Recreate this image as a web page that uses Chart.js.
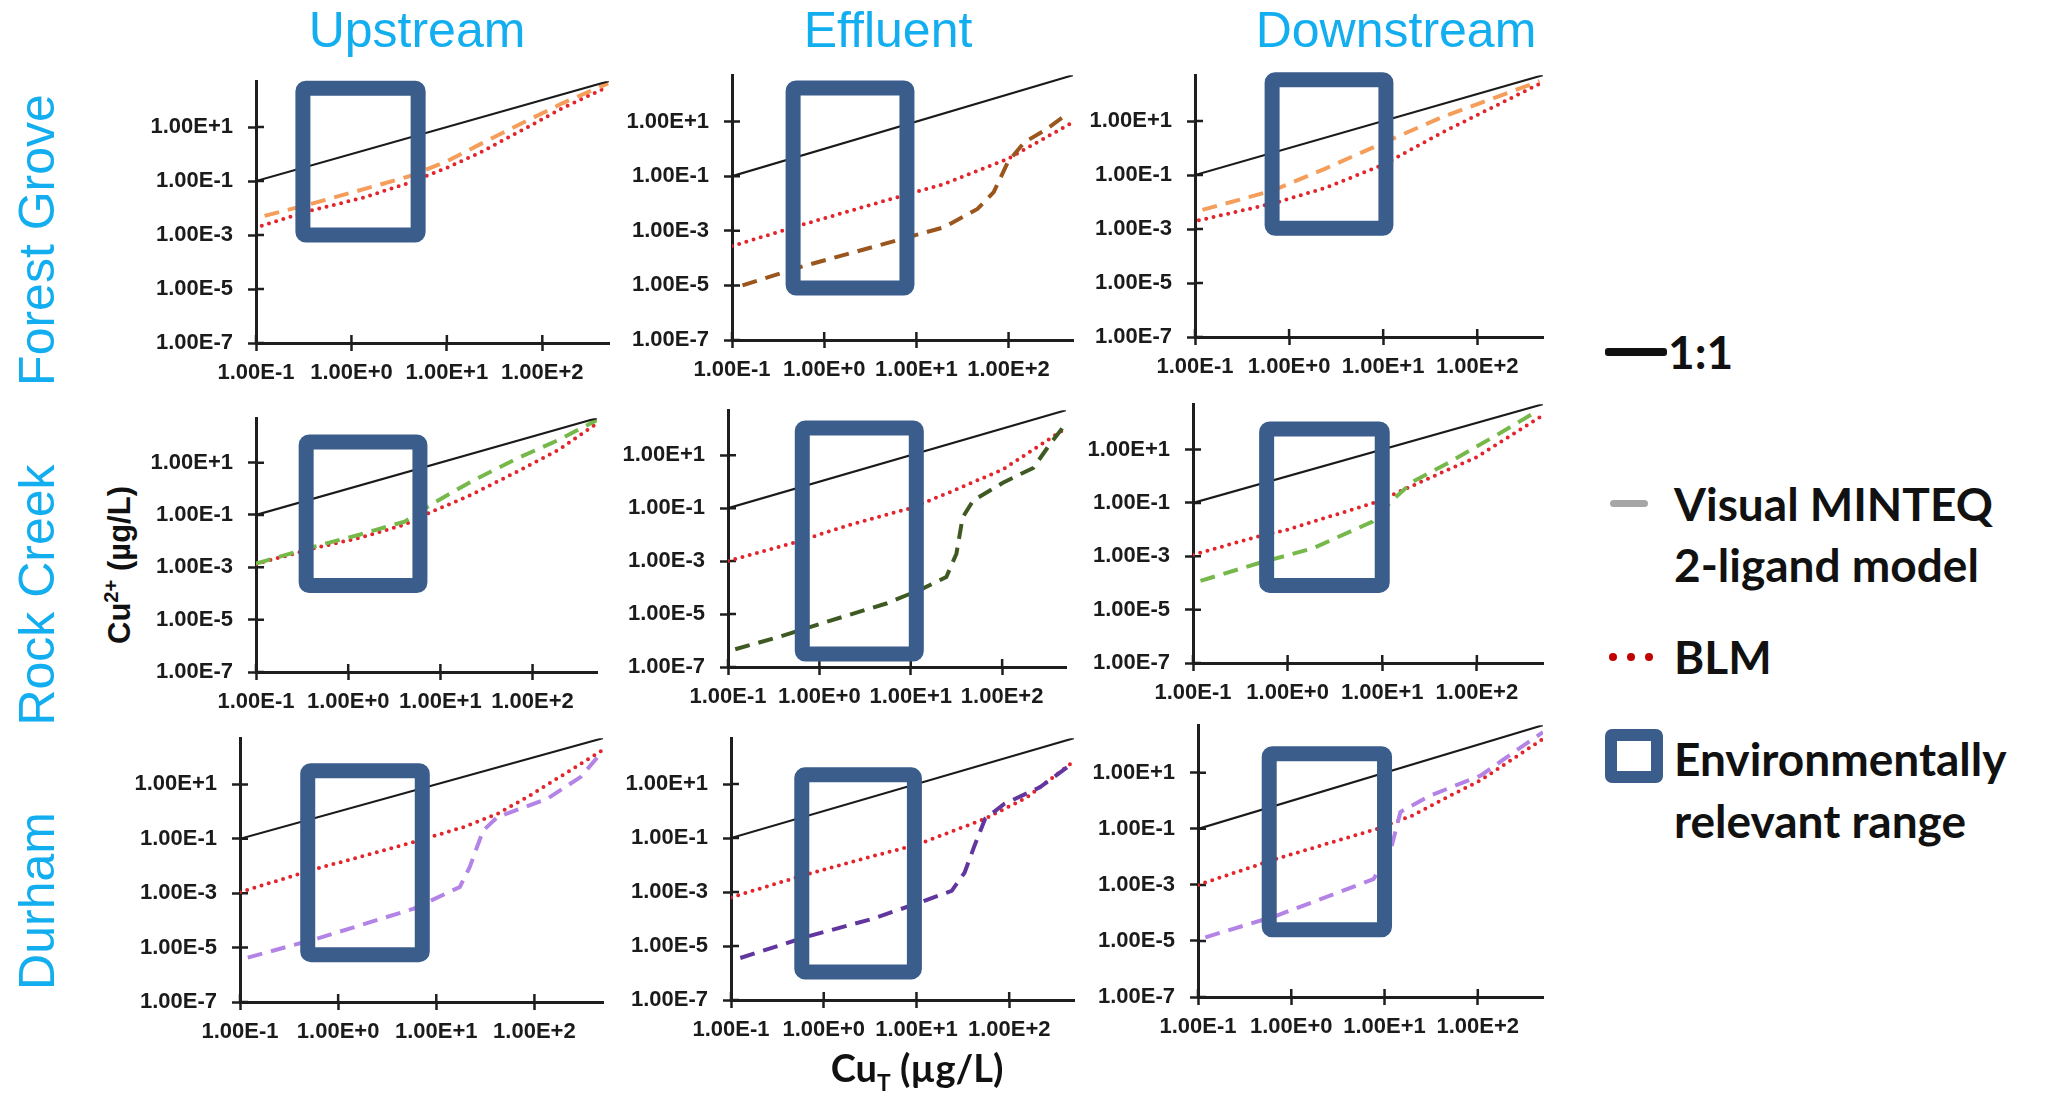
<!DOCTYPE html>
<html>
<head>
<meta charset="utf-8">
<script src="https://cdn.jsdelivr.net/npm/chart.js@4.4.1/dist/chart.umd.min.js"></script>
<style>
  html, body { margin: 0; padding: 0; background: #fff; }
  #page { position: relative; width: 2059px; height: 1096px; overflow: hidden; font-family: "Liberation Sans", Arial, sans-serif; }
  canvas.panel { position: absolute; }
  .title { position: absolute; color: #12AEEF; font-size: 50px; line-height: 1; white-space: nowrap; }
  .col { transform: translate(-50%, -50%); }
  .row { transform: translate(-50%, -50%) rotate(-90deg); }
  .axTitle { position: absolute; font-weight: bold; color: #111; white-space: nowrap; line-height: 1; }
  .leg { position: absolute; font-family: Lato, "Open Sans", sans-serif; font-weight: bold; font-size: 46px; color: #111; line-height: 1; white-space: nowrap; transform: translateY(-50%); }
  .sym { position: absolute; }
</style>
</head>
<body>
<div id="page"></div>
<script>
// ---- data ----
const columns = ['Upstream', 'Effluent', 'Downstream'];
const rows = ['Forest Grove', 'Rock Creek', 'Durham'];

const xTickValues = [0.1, 1, 10, 100];
const xTickLabels = ['1.00E-1', '1.00E+0', '1.00E+1', '1.00E+2'];
const yTickValues = [1e-7, 1e-5, 1e-3, 1e-1, 10];
const yTickLabels = ['1.00E-7', '1.00E-5', '1.00E-3', '1.00E-1', '1.00E+1'];

// 1:1 line (x = y)
const oneToOne = [0.1, 500];

// Forest Grove
const fgUpBlmX = [0.115, 0.363, 1.32, 4.07, 10, 21.9, 72.4, 162, 490];
const fgUpBlmY = [2.2e-3, 7.8e-3, 2.4e-2, 8.7e-2, 0.31, 1.1, 10.5, 50, 316];
const fgUpMinX = [0.123, 0.363, 1.32, 4.07, 10, 21.9, 72.4, 162, 490];
const fgUpMinY = [5.1e-3, 1.38e-2, 4.9e-2, 0.151, 0.537, 2.24, 18.6, 75.9, 417];

const fgEffBlmX = [0.1, 0.55, 6.2, 20, 98, 500];
const fgEffBlmY = [2.75e-4, 1.6e-3, 1.7e-2, 5.2e-2, 0.43, 9.5];
const fgEffMinX = [0.13, 0.55, 6.2, 20, 46, 69, 98, 148, 245, 389];
const fgEffMinY = [1e-5, 4.7e-5, 4.5e-4, 1.35e-3, 6.3e-3, 2.6e-2, 0.32, 1.74, 4.7, 14.5];

const fgDownBlmX = [0.11, 0.68, 2.4, 10, 42, 460];
const fgDownBlmY = [2.1e-3, 8.9e-3, 3.3e-2, 0.24, 3.7, 240];
const fgDownMinX = [0.12, 0.68, 2.4, 10, 42, 460];
const fgDownMinY = [5.1e-3, 2.7e-2, 0.17, 1.55, 13.8, 300];

// Rock Creek
const rcUpBlmX = [0.1, 0.45, 1.35, 4.1, 7.9, 21, 65, 195, 500];
const rcUpBlmY = [1.35e-3, 5.6e-3, 1.35e-2, 4.3e-2, 0.13, 0.56, 4.2, 32, 316];
const rcUpMinX = [0.1, 0.45, 1.35, 4.1, 7.9, 21, 65, 195, 500];
const rcUpMinY = [1.4e-3, 6.5e-3, 1.8e-2, 5.6e-2, 0.25, 1.8, 13.5, 76, 427];

const rcEffBlmX = [0.1, 0.54, 2.3, 10, 29, 102, 500];
const rcEffBlmY = [1e-3, 5.1e-3, 2.5e-2, 0.1, 0.45, 2.9, 105];
const rcEffMinX = [0.12, 0.37, 1.2, 5.4, 13.5, 24.5, 31.6, 37, 48, 102, 219, 331, 500];
const rcEffMinY = [4.7e-7, 1.4e-6, 5.1e-6, 2.5e-5, 9.1e-5, 2.5e-4, 1.9e-3, 4.5e-2, 0.19, 0.91, 3.3, 25, 158];

const rcDownBlmX = [0.1, 0.5, 1, 10, 15, 48, 100, 500];
const rcDownBlmY = [1.15e-3, 5.6e-3, 1e-2, 0.126, 0.26, 1.66, 5.2, 195];
const rcDownMinX = [0.12, 0.5, 1.86, 7.9, 12.9, 21, 48, 158, 450];
const rcDownMinY = [1.2e-4, 5.6e-4, 2e-3, 2e-2, 0.13, 0.62, 2.95, 33, 300];

// Durham
const duUpBlmX = [0.1, 0.6, 5.9, 19, 42, 91, 500];
const duUpBlmY = [1.1e-3, 7.9e-3, 7.6e-2, 0.27, 0.83, 4, 186];
const duUpMinX = [0.12, 0.6, 5.9, 17.4, 21.9, 30, 42, 135, 295, 500];
const duUpMinY = [4.3e-6, 2.1e-5, 2.7e-4, 1.7e-3, 9.1e-3, 0.2, 0.63, 2.95, 18.6, 170];

const duEffBlmX = [0.1, 0.65, 3.3, 10, 55, 155, 500];
const duEffBlmY = [6.3e-4, 4.5e-3, 2.1e-2, 5.6e-2, 0.52, 3.2, 71];
const duEffMinX = [0.126, 0.65, 3.3, 10, 24, 33, 42, 55, 89, 214, 468];
const duEffMinY = [3.6e-6, 2.2e-5, 1e-4, 3.7e-4, 1.1e-3, 5.2e-3, 4.9e-2, 0.52, 1.86, 7.6, 54];

const duDownBlmX = [0.1, 0.69, 8.3, 20, 47, 107, 500];
const duDownBlmY = [1e-3, 8.5e-3, 0.1, 0.3, 1.35, 5.4, 162];
const duDownMinX = [0.12, 0.69, 7.6, 11.5, 14.8, 31, 107, 245, 500];
const duDownMinY = [1.35e-5, 7.9e-5, 1.6e-3, 1.5e-2, 0.4, 1.55, 7.9, 55, 282];

// environmentally relevant range: [xMin, xMax, yMin, yMax]
const boxFgUp = [0.31, 5.0, 1e-3, 275];
const boxFgEff = [0.46, 7.9, 8e-6, 170];
const boxFgDown = [0.66, 10.7, 1.07e-3, 340];
const boxRcUp = [0.35, 6.0, 2e-4, 62];
const boxRcEff = [0.65, 11.5, 3.1e-7, 107];
const boxRcDown = [0.6, 10, 8.1e-5, 59];
const boxDuUp = [0.49, 7.2, 5.5e-6, 32];
const boxDuEff = [0.58, 9.5, 1.1e-6, 22];
const boxDuDown = [0.58, 10, 2.5e-5, 48];

// ---- layout / styles ----
const AXIS_COLOR = '#1e1e1e';
const BOX_COLOR = '#3A5D8C';
const BLM_COLOR = '#E3242B';
const Y_AXIS_W = 110, X_AXIS_H = 60, PAD_TOP = 14, PAD_RIGHT = 12;

// plot area of every panel: left, top, bottom, right (px)
const panels = [
  { L: 256, T: 81,  B: 343, R: 609,  blm: [fgUpBlmX, fgUpBlmY], min: [fgUpMinX, fgUpMinY], color: '#F59D5A', box: boxFgUp },
  { L: 732, T: 75,  B: 340, R: 1073, blm: [fgEffBlmX, fgEffBlmY], min: [fgEffMinX, fgEffMinY], color: '#9A561D', box: boxFgEff },
  { L: 1195, T: 75, B: 337, R: 1543, blm: [fgDownBlmX, fgDownBlmY], min: [fgDownMinX, fgDownMinY], color: '#F59D5A', box: boxFgDown },
  { L: 256, T: 418, B: 672, R: 597,  blm: [rcUpBlmX, rcUpBlmY], min: [rcUpMinX, rcUpMinY], color: '#76B84A', box: boxRcUp },
  { L: 728, T: 410, B: 667, R: 1066, blm: [rcEffBlmX, rcEffBlmY], min: [rcEffMinX, rcEffMinY], color: '#3E5A22', box: boxRcEff },
  { L: 1193, T: 404, B: 663, R: 1543, blm: [rcDownBlmX, rcDownBlmY], min: [rcDownMinX, rcDownMinY], color: '#76B84A', box: boxRcDown },
  { L: 240, T: 738, B: 1002, R: 603, blm: [duUpBlmX, duUpBlmY], min: [duUpMinX, duUpMinY], color: '#B384E6', box: boxDuUp },
  { L: 731, T: 738, B: 1000, R: 1074, blm: [duEffBlmX, duEffBlmY], min: [duEffMinX, duEffMinY], color: '#61369E', box: boxDuEff },
  { L: 1198, T: 725, B: 997, R: 1543, blm: [duDownBlmX, duDownBlmY], min: [duDownMinX, duDownMinY], color: '#B384E6', box: boxDuDown }
];

const page = document.getElementById('page');

function pts(xs, ys) {
  return xs.map((x, i) => ({ x: x, y: ys[i] }));
}

// the blue "environmentally relevant range" rectangle, drawn over the lines
const rangeBox = {
  id: 'rangeBox',
  afterDatasetsDraw(chart, args, opts) {
    const b = opts.range;
    if (!b) return;
    const sx = chart.scales.x, sy = chart.scales.y;
    const x0 = sx.getPixelForValue(b[0]), x1 = sx.getPixelForValue(b[1]);
    const y0 = sy.getPixelForValue(b[3]), y1 = sy.getPixelForValue(b[2]);
    const ctx = chart.ctx;
    ctx.save();
    ctx.strokeStyle = BOX_COLOR;
    ctx.lineWidth = 15;
    ctx.lineJoin = 'round';
    ctx.beginPath();
    ctx.roundRect(x0, y0, x1 - x0, y1 - y0, 3);
    ctx.stroke();
    ctx.restore();
  }
};

// tick marks cross the axis: draw the inner half
const innerTicks = {
  id: 'innerTicks',
  beforeDatasetsDraw(chart) {
    const ctx = chart.ctx, a = chart.chartArea;
    const sx = chart.scales.x, sy = chart.scales.y;
    ctx.save();
    ctx.strokeStyle = AXIS_COLOR;
    ctx.lineWidth = 2.5;
    ctx.beginPath();
    sx.ticks.forEach(t => {
      const p = sx.getPixelForValue(t.value);
      ctx.moveTo(p, a.bottom);
      ctx.lineTo(p, a.bottom - 8);
    });
    sy.ticks.forEach(t => {
      const p = sy.getPixelForValue(t.value);
      ctx.moveTo(a.left, p);
      ctx.lineTo(a.left + 8, p);
    });
    ctx.stroke();
    ctx.restore();
  }
};

function axis(dir) {
  const isX = dir === 'x';
  return {
    type: 'logarithmic',
    position: isX ? 'bottom' : 'left',
    min: isX ? 0.1 : 1e-7,
    max: 500,
    afterBuildTicks: s => { s.ticks = (isX ? xTickValues : yTickValues).map(v => ({ value: v })); },
    afterFit: s => { if (isX) s.height = X_AXIS_H; else s.width = Y_AXIS_W; },
    border: { display: true, color: AXIS_COLOR, width: 3 },
    grid: { drawOnChartArea: false, drawTicks: true, tickLength: 8, tickWidth: 2.5, color: AXIS_COLOR },
    ticks: {
      autoSkip: false,
      maxRotation: 0,
      padding: isX ? 9 : 15,
      color: '#1b1b1b',
      font: { family: '"Liberation Sans", Arial, sans-serif', size: 22, weight: 'bold' },
      callback: (v, i) => (isX ? xTickLabels : yTickLabels)[i]
    }
  };
}

function config(p) {
  return {
    type: 'scatter',
    data: {
      datasets: [
        {
          label: '1:1',
          data: pts(oneToOne, oneToOne),
          showLine: true, borderColor: '#1a1a1a', borderWidth: 2.2, pointRadius: 0
        },
        {
          label: 'Visual MINTEQ 2-ligand model',
          data: pts(p.min[0], p.min[1]),
          showLine: true, borderColor: p.color, borderWidth: 4, borderDash: [15, 9], pointRadius: 0
        },
        {
          label: 'BLM',
          data: pts(p.blm[0], p.blm[1]),
          showLine: true, borderColor: BLM_COLOR, borderWidth: 4, borderDash: [0, 7.5],
          borderCapStyle: 'round', pointRadius: 0
        }
      ]
    },
    options: {
      responsive: false,
      animation: false,
      layout: { padding: { top: PAD_TOP, right: PAD_RIGHT, left: 0, bottom: 0 } },
      plugins: {
        legend: { display: false },
        tooltip: { enabled: false },
        rangeBox: { range: p.box }
      },
      scales: { x: axis('x'), y: axis('y') }
    },
    plugins: [innerTicks, rangeBox]
  };
}

panels.forEach(p => {
  const c = document.createElement('canvas');
  c.className = 'panel';
  page.appendChild(c);

  // first pass: measure how much room the axes take, then size the canvas
  // so the plot area lands exactly on the panel box
  let w = p.R - p.L + Y_AXIS_W + PAD_RIGHT;
  let h = p.B - p.T + PAD_TOP + X_AXIS_H;
  c.width = w; c.height = h;
  let chart = new Chart(c, config(p));
  const a = chart.chartArea;
  w += (p.R - p.L) - (a.right - a.left);
  h += (p.B - p.T) - (a.bottom - a.top);
  chart.destroy();

  c.width = w; c.height = h;
  chart = new Chart(c, config(p));
  c.style.left = (p.L - chart.chartArea.left) + 'px';
  c.style.top = (p.T - chart.chartArea.top) + 'px';
});

// ---- titles ----
const colCenters = [417, 888, 1396];
columns.forEach((t, i) => {
  const d = document.createElement('div');
  d.className = 'title col';
  d.textContent = t;
  d.style.left = colCenters[i] + 'px';
  d.style.top = '30px';
  page.appendChild(d);
});
const rowCenters = [240, 595, 901];
rows.forEach((t, i) => {
  const d = document.createElement('div');
  d.className = 'title row';
  d.textContent = t;
  d.style.left = '37px';
  d.style.top = rowCenters[i] + 'px';
  page.appendChild(d);
});

const yTitle = document.createElement('div');
yTitle.className = 'axTitle';
yTitle.style.cssText = 'left:118px; top:565px; font-size:31px; transform:translate(-50%,-50%) rotate(-90deg);';
yTitle.innerHTML = 'Cu<sup style="font-size:0.65em">2+</sup> (µg/L)';
page.appendChild(yTitle);

const xTitle = document.createElement('div');
xTitle.className = 'axTitle';
xTitle.style.cssText = 'left:917px; top:1071px; font-size:38px; font-family:Lato,sans-serif; transform:translate(-50%,-50%);';
xTitle.innerHTML = 'Cu<sub style="font-size:0.6em">T</sub> (µg/L)';
page.appendChild(xTitle);

// ---- legend ----
const legendHtml = `
  <div class="sym" style="left:1605px; top:348px; width:62px; height:8px; background:#111; border-radius:3px;"></div>
  <div class="leg" style="left:1668px; top:352px;">1:1</div>
  <div class="sym" style="left:1610px; top:500px; width:38px; height:7px; background:#A6A6A6; border-radius:4px;"></div>
  <div class="leg" style="left:1674px; top:504px;">Visual MINTEQ</div>
  <div class="leg" style="left:1674px; top:565px;">2-ligand model</div>
  <div class="sym" style="left:1609px; top:653px; width:8px; height:8px; background:#C00000; border-radius:50%;"></div>
  <div class="sym" style="left:1627px; top:653px; width:8px; height:8px; background:#C00000; border-radius:50%;"></div>
  <div class="sym" style="left:1645px; top:653px; width:8px; height:8px; background:#C00000; border-radius:50%;"></div>
  <div class="leg" style="left:1674px; top:657px;">BLM</div>
  <div class="sym" style="left:1605px; top:729px; width:34px; height:30px; border:12px solid ${BOX_COLOR}; border-radius:7px;"></div>
  <div class="leg" style="left:1674px; top:759px;">Environmentally</div>
  <div class="leg" style="left:1674px; top:821px;">relevant range</div>
`;
page.insertAdjacentHTML('beforeend', legendHtml);
</script>
</body>
</html>
